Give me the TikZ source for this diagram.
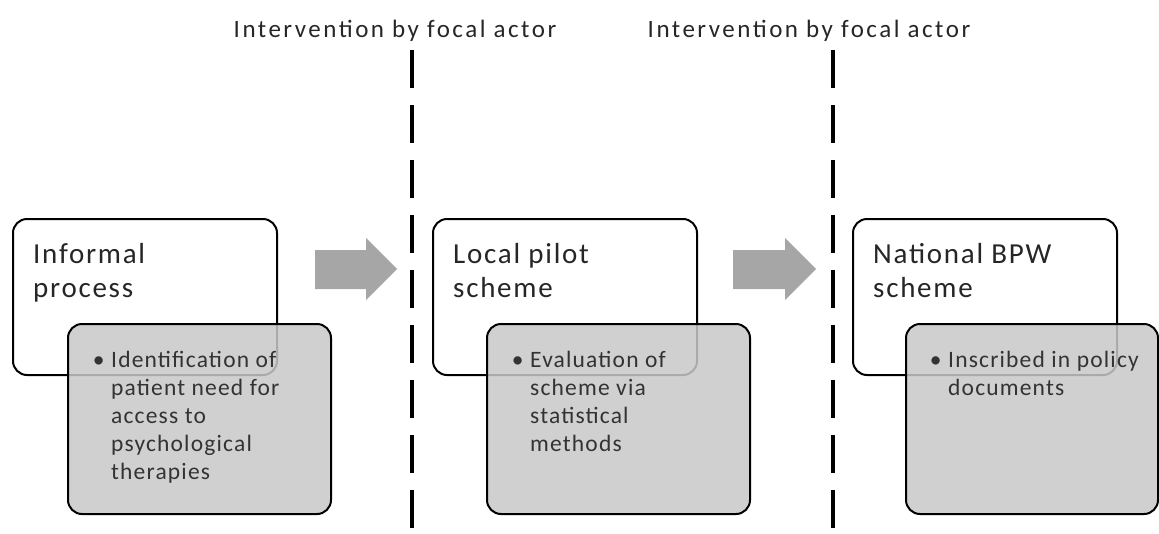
\documentclass[tikz,border=0pt]{standalone}
\usepackage{fontspec}
\setmainfont{Carlito}
\definecolor{boxgray}{RGB}{200,200,200}
\definecolor{arrowgray}{RGB}{166,166,166}
\newcommand\mylabelfont{\fontsize{25}{29}\selectfont\addfontfeatures{LetterSpace=10}}
\begin{document}
\begin{tikzpicture}[x=1pt,y=-1pt,
  whitebox/.style={draw=black, line width=2pt, rounded corners=14pt, fill=white,
    minimum width=264pt, minimum height=156pt, anchor=north west, inner sep=0pt},
  graybox/.style={draw=black, line width=2pt, rounded corners=14pt, fill=boxgray,
    fill opacity=0.85, minimum width=263pt, minimum height=190pt, anchor=north west, inner sep=0pt},
  titletext/.style={anchor=north west, inner sep=0pt, align=left,
    font=\fontsize{29}{34}\selectfont\addfontfeatures{LetterSpace=6}, text=black!85},
  bullettext/.style={anchor=north west, inner sep=0pt, align=left,
    font=\fontsize{23.5}{28}\selectfont\addfontfeatures{LetterSpace=5}, text=black!80},
  labeltext/.style={anchor=base, inner sep=0pt, font=\mylabelfont, text=black!85},
  dashline/.style={line width=4pt, dash pattern=on 38pt off 17pt},
  blockarrow/.style={fill=arrowgray}
]
\useasboundingbox (0,0) rectangle (1159,533);

% labels and dashed lines
\node[labeltext] (lab1) at (395,37) {Intervention by focal actor};
\node[labeltext] (lab2) at (809,37) {Intervention by focal actor};
\coordinate (d1top) at (412,50);
\coordinate (d1bot) at (412,533);
\coordinate (d2top) at (833,50);
\coordinate (d2bot) at (833,533);
\draw[dashline] (d1top) -- (d1bot);
\draw[dashline] (d2top) -- (d2bot);

% boxes
\node[whitebox] (w1) at (12,218) {};
\node[whitebox] (w2) at (432,218) {};
\node[whitebox] (w3) at (852,218) {};
\node[titletext] (t1) at (33,243) {Informal\\process};
\node[titletext] (t2) at (453,243) {Local pilot\\scheme};
\node[titletext] (t3) at (873,243) {National BPW\\scheme};

\node[graybox] (g1) at (67,323) {};
\node[graybox] (g2) at (486,323) {};
\node[graybox, minimum width=252pt] (g3) at (905,323) {};

\node[bullettext] (b1) at (86,351) {\makebox[25pt][c]{\textbullet}Identification of\\
  \hspace*{25pt}patient need for\\ \hspace*{25pt}access to\\
  \hspace*{25pt}psychological\\ \hspace*{25pt}therapies};
\node[bullettext] (b2) at (505,351) {\makebox[25pt][c]{\textbullet}Evaluation of\\
  \hspace*{25pt}scheme via\\ \hspace*{25pt}statistical\\ \hspace*{25pt}methods};
\node[bullettext] (b3) at (923,351) {\makebox[25pt][c]{\textbullet}Inscribed in policy\\
  \hspace*{25pt}documents};

% block arrows
\fill[blockarrow] (315,250) -- (366,250) -- (366,238) -- (397,269) -- (366,300) -- (366,289) -- (315,289) -- cycle;
\fill[blockarrow] (733,250) -- (785,250) -- (785,238) -- (816,269) -- (785,300) -- (785,289) -- (733,289) -- cycle;
\end{tikzpicture}
\end{document}
